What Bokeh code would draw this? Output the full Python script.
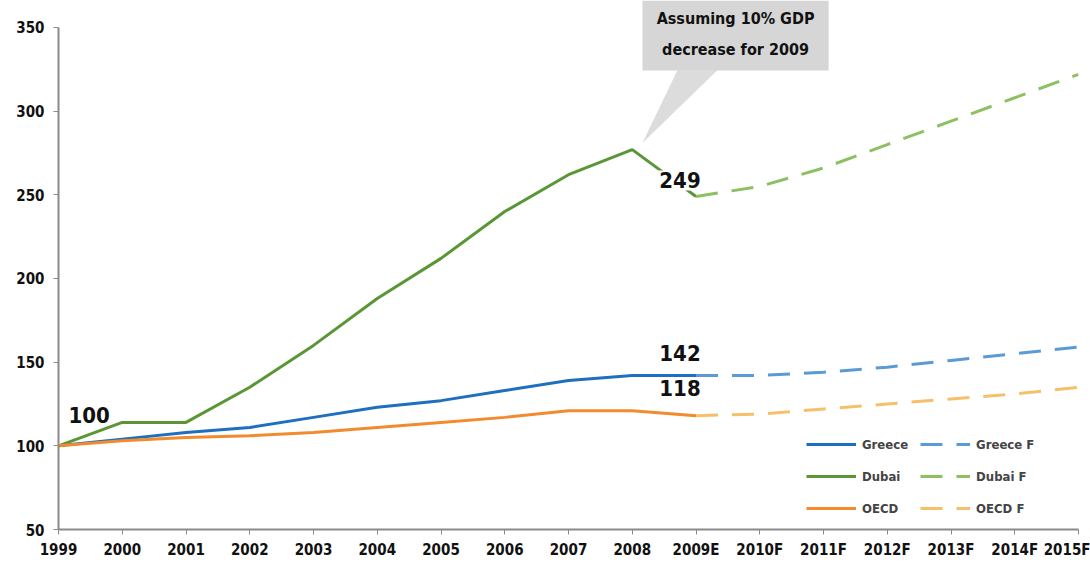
from bokeh.plotting import figure
from bokeh.models import Legend, LegendItem, FixedTicker
from bokeh.core.properties import value
from bokeh.embed import file_html
from bokeh.resources import INLINE

years = ["1999", "2000", "2001", "2002", "2003", "2004", "2005", "2006", "2007", "2008",
         "2009E", "2010F", "2011F", "2012F", "2013F", "2014F", "2015F"]

greece = [100, 104, 108, 111, 117, 123, 127, 133, 139, 142, 142]
dubai = [100, 114, 114, 135, 160, 188, 212, 240, 262, 277, 249]
oecd = [100, 103, 105, 106, 108, 111, 114, 117, 121, 121, 118]

greece_f = [142, 142, 144, 147, 151, 155, 159]
dubai_f = [249, 255, 266, 280, 294, 308, 322]
oecd_f = [118, 119, 122, 125, 128, 131, 135]

y_ticks = [50, 100, 150, 200, 250, 300, 350]
callout = "Assuming 10% GDP\ndecrease for 2009"

FONT = "DejaVu Sans Condensed, Liberation Sans Narrow, Arial Narrow, sans-serif"

C_GREECE, C_GREECE_F = "#1f6fc0", "#5b9bd5"
C_DUBAI, C_DUBAI_F = "#5a9636", "#8cc063"
C_OECD, C_OECD_F = "#f28a2e", "#f6c06a"

hist_x = list(range(len(greece)))
fc_x = list(range(len(greece) - 1, len(years)))

p = figure(width=1090, height=572, output_backend="svg", toolbar_location=None,
           x_range=(0, len(years) - 1), y_range=(50, 366.1),
           min_border_left=58, min_border_right=12, min_border_top=0, min_border_bottom=43)
p.outline_line_color = None
p.xgrid.grid_line_color = None
p.ygrid.grid_line_color = None
p.background_fill_color = "white"

# callout box and pointer
p.quad(left=9.16, right=12.08, bottom=324.3, top=366.1, fill_color="#d6d6d6", line_color=None)
p.patch(x=[9.71, 10.34, 9.16], y=[324.5, 324.5, 281], fill_color="#dcdcdc", line_color=None)
p.text(x=[10.62], y=[346], text=[callout], text_align="center", text_baseline="middle",
       text_font=value(FONT), text_font_style="bold", text_font_size="16px",
       text_color="#111111", text_line_height=1.6)

dash = "22 14"
r_g = p.line(hist_x, greece, line_color=C_GREECE, line_width=3)
r_d = p.line(hist_x, dubai, line_color=C_DUBAI, line_width=3)
r_o = p.line(hist_x, oecd, line_color=C_OECD, line_width=3)
r_gf = p.line(fc_x, greece_f, line_color=C_GREECE_F, line_width=3, line_dash=dash)
r_df = p.line(fc_x, dubai_f, line_color=C_DUBAI_F, line_width=3, line_dash=dash)
r_of = p.line(fc_x, oecd_f, line_color=C_OECD_F, line_width=3, line_dash=dash)

lab_kw = dict(text_font=value(FONT), text_font_style="bold", text_font_size="22px",
              text_color="#111111", text_baseline="alphabetic")
p.text(x=[0], y=[dubai[0]], text=[str(dubai[0])], x_offset=10, y_offset=-31, text_align="left", **lab_kw)
i = len(greece) - 1
p.text(x=[i], y=[greece[i]], text=[str(greece[i])], x_offset=-16, y_offset=-23, text_align="center", **lab_kw)
p.text(x=[i], y=[oecd[i]], text=[str(oecd[i])], x_offset=-16, y_offset=-28, text_align="center", **lab_kw)
p.text(x=[i], y=[dubai[i]], text=[str(dubai[i])], x_offset=-16, y_offset=-16, text_align="center",
       background_fill_color="white", padding=2, **lab_kw)

# axes
p.xaxis.ticker = FixedTicker(ticks=list(range(len(years))))
p.xaxis.major_label_overrides = {k: v for k, v in enumerate(years)}
p.yaxis.ticker = FixedTicker(ticks=y_ticks)
p.yaxis.bounds = (50, 350)
for ax in (p.xaxis[0], p.yaxis[0]):
    ax.axis_line_color = "#8a8a8a"
    ax.axis_line_width = 2
    ax.major_tick_line_color = "#8a8a8a"
    ax.major_tick_out = 5
    ax.major_tick_in = 0
    ax.minor_tick_line_color = None
    ax.major_label_text_font = FONT
    ax.major_label_text_font_style = "bold"
    ax.major_label_text_font_size = "15px"
    ax.major_label_text_color = "#111111"
p.xaxis.major_label_standoff = 6
p.yaxis.major_label_standoff = 9

legend = Legend(items=[
    LegendItem(label="Greece", renderers=[r_g]),
    LegendItem(label="Dubai", renderers=[r_d]),
    LegendItem(label="OECD", renderers=[r_o]),
    LegendItem(label="Greece F", renderers=[r_gf]),
    LegendItem(label="Dubai F", renderers=[r_df]),
    LegendItem(label="OECD F", renderers=[r_of]),
], location=(748, 11), ncols=2, glyph_width=50, glyph_height=20, spacing=12,
    label_text_font=FONT, label_text_font_style="bold", label_text_font_size="13px",
    label_standoff=6, background_fill_alpha=0, border_line_color=None)
p.add_layout(legend)

open("out.html", "w").write(file_html(p, INLINE))
